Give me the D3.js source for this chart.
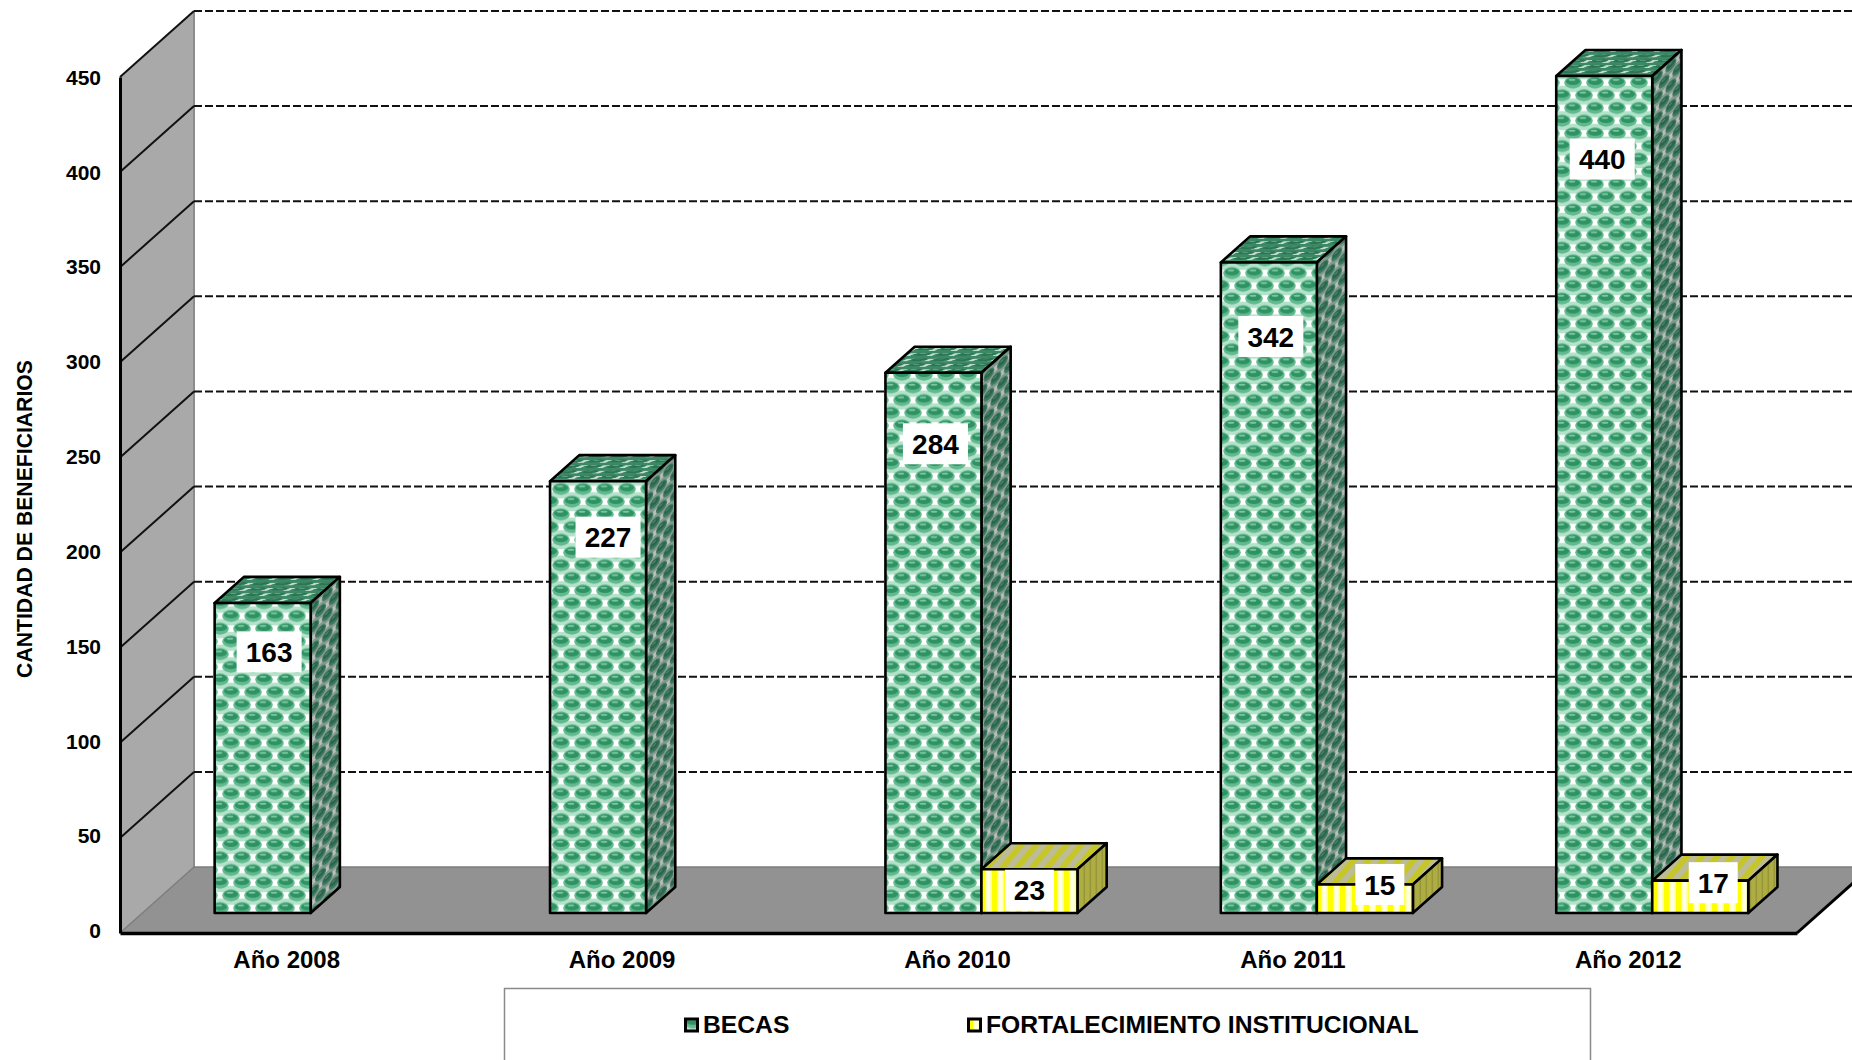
<!DOCTYPE html>
<html><head><meta charset="utf-8">
<script src="https://cdn.jsdelivr.net/npm/d3@7"></script>
<style>html,body{margin:0;padding:0;background:#fff;overflow:hidden}svg{display:block}text{font-family:"Liberation Sans",Arial,sans-serif;font-weight:bold;fill:#000}</style>
</head><body><svg id="c" width="1852" height="1060"></svg>
<script>
const categories = ["Año 2008","Año 2009","Año 2010","Año 2011","Año 2012"];
const seriesNames = ["BECAS","FORTALECIMIENTO INSTITUCIONAL"];
const becas = [163,227,284,342,440];
const fortalecimiento = [null,null,23,15,17];
const yTicks = [0,50,100,150,200,250,300,350,400,450];
const yTitle = "CANTIDAD DE BENEFICIARIOS";

// label placement (drawn offset from the top-front corner of each bar)
const labelDyBecas = [49,56,71,74,83];
const labelDxBecas = [6.5,10,2,2,-2];
const labelDyFort = [21,0,2];
const labelDxFort = [0,15,13];

const W=1852,H=1060, depthX=74, depthY=-66, nearFrac=.31, barDepth=.395;
const svg=d3.select("#c");
const x=d3.scaleBand().domain(categories).range([120,1797]);
const xSer=d3.scaleBand().domain(seriesNames).range([-96,96]);
const y=d3.scaleLinear().domain([0,450]).range([933,77]);
const defs=svg.append("defs");

function greenPattern(id,tf,bg,sq,el,dk,hi){
  const p=defs.append("pattern").attr("id",id).attr("patternUnits","userSpaceOnUse").attr("width",22).attr("height",25.4);
  if(tf)p.attr("patternTransform",tf);
  p.append("rect").attr("width",22).attr("height",25.4).attr("fill",bg);
  [[0,6.35],[22,6.35],[11,19.05]].forEach(([a,b])=>{
    p.append("rect").attr("x",a-4.2).attr("y",b-3.2).attr("width",8.4).attr("height",6.4).attr("fill",sq);
  });
  [[11,6.35],[0,19.05],[22,19.05]].forEach(([a,b])=>{
    p.append("ellipse").attr("cx",a).attr("cy",b).attr("rx",8.8).attr("ry",6).attr("fill",el);
    p.append("ellipse").attr("cx",a).attr("cy",b-1.2).attr("rx",7).attr("ry",3.6).attr("fill",dk);
    p.append("ellipse").attr("cx",a-1).attr("cy",b-2.6).attr("rx",3.4).attr("ry",1).attr("fill",hi);
  });
}
greenPattern("gFront",null,"#b5e2ca","#ffffff","#62b98f","#2f9263","#7cc7a2");
greenPattern("gTop","scale(1,.42) skewX(-48)","#3d8765","#c3dccf","#3a8a66","#2c7553","#5fa283");
greenPattern("gSide","skewY(-42) scale(.62,.8)","#83998e","#b9c0bb","#3d7a60","#2a654c","#4b8a6c");

const py=defs.append("pattern").attr("id","yFront").attr("patternUnits","userSpaceOnUse").attr("width",12).attr("height",20).attr("x",982);
py.append("rect").attr("width",12).attr("height",20).attr("fill","#ffff00");
py.append("rect").attr("x",3).attr("width",7).attr("height",20).attr("fill","#ffff90");
py.append("rect").attr("x",4.5).attr("width",4).attr("height",20).attr("fill","#ffffe8");
const pt=defs.append("pattern").attr("id","yTop").attr("patternUnits","userSpaceOnUse").attr("width",11.5).attr("height",14).attr("patternTransform","rotate(40)");
pt.append("rect").attr("width",11.5).attr("height",14).attr("fill","#c6c628");
pt.append("rect").attr("x",5.7).attr("width",5.8).attr("height",14).attr("fill","#bcbc96");
const ps=defs.append("pattern").attr("id","ySide").attr("patternUnits","userSpaceOnUse").attr("width",6).attr("height",20);
ps.append("rect").attr("width",6).attr("height",20).attr("fill","#adad44");
ps.append("rect").attr("x",3.5).attr("width",1.6).attr("height",20).attr("fill","#97973a");

// walls
const line=d3.line();
const y0=y(0), yTop=y(450), xL=x.range()[0], xR=x.range()[1];
svg.append("path").attr("d",line([[xL,y0],[xL+depthX,y0+depthY],[xL+depthX,yTop+depthY],[xL,yTop]])+"Z").attr("fill","#a9a9a9");
svg.append("path").attr("d",line([[xL,y0],[xR,y0],[xR+depthX,y0+depthY],[xL+depthX,y0+depthY]])+"Z").attr("fill","#929292");
svg.append("path").attr("d",line([[xL+depthX,y0+depthY],[xL+depthX,yTop+depthY]])).attr("stroke","#8c8c8c").attr("stroke-width",2).attr("fill","none");
svg.append("path").attr("d",line([[xR,y0],[xR+depthX,y0+depthY]])).attr("stroke","#000").attr("stroke-width",3).attr("fill","none");
svg.append("path").attr("d",line([[xL+depthX,y0+depthY],[xR+depthX,y0+depthY]])).attr("stroke","#7d7d7d").attr("stroke-width",1.5);
svg.append("path").attr("d",line([[xL,y0],[xL+depthX,y0+depthY]])).attr("stroke","#7d7d7d").attr("stroke-width",1.5);

// gridlines
yTicks.filter(t=>t>0).forEach(t=>{
  const g=y(t);
  svg.append("path").attr("d",line([[xL,g],[xL+depthX,g+depthY]])).attr("stroke","#111").attr("stroke-width",2).attr("fill","none");
  svg.append("path").attr("d",line([[xL+depthX,g+depthY],[xR+depthX,g+depthY]])).attr("stroke","#111").attr("stroke-width",2).attr("stroke-dasharray","8 3").attr("fill","none");
});

// axes
const ax=svg.append("g").attr("transform",`translate(${xL},0)`).call(d3.axisLeft(y).tickValues(yTicks).tickSize(0).tickPadding(19));
ax.select(".domain").attr("stroke","#000").attr("stroke-width",3);
ax.selectAll("text").attr("font-size",21).attr("font-family",'"Liberation Sans",Arial,sans-serif').attr("font-weight","bold")
  .attr("y",d=>-(1-d/450)*2.6+.6);
const bx=svg.append("g").attr("transform",`translate(-1,${y0})`).call(d3.axisBottom(x).tickSize(0).tickPadding(18));
bx.select(".domain").attr("stroke","#000").attr("stroke-width",3.5).attr("transform","translate(1,0)");
bx.selectAll("text").attr("font-size",24).attr("font-family",'"Liberation Sans",Arial,sans-serif').attr("font-weight","bold");

svg.append("text").attr("transform","translate(32,519) rotate(-90)").attr("text-anchor","middle").attr("font-size",21.2).text(yTitle);

// bars
const fx=nearFrac*depthX, fy=-20, bdx=barDepth*depthX, bdy=barDepth*depthY;
function bar(cat,ser,val,pF,pT,pS){
  const x0=x(cat)+x.bandwidth()/2+xSer(ser)+fx, x1=x0+xSer.bandwidth();
  const yb=y(0)+fy, yt=y(val)+fy;
  const g=svg.append("g").attr("stroke","#000").attr("stroke-width",2.6).attr("stroke-linejoin","round");
  g.append("path").attr("d",line([[x0,yt],[x1,yt],[x1+bdx,yt+bdy],[x0+bdx,yt+bdy]])+"Z").attr("fill",`url(#${pT})`);
  g.append("path").attr("d",line([[x1,yt],[x1+bdx,yt+bdy],[x1+bdx,yb+bdy],[x1,yb]])+"Z").attr("fill",`url(#${pS})`);
  g.append("path").attr("d",line([[x0,yt],[x1,yt],[x1,yb],[x0,yb]])+"Z").attr("fill",`url(#${pF})`);
  return {x0,x1,yt};
}
const pending=[];
categories.forEach((c,i)=>{
  const b=bar(c,seriesNames[0],becas[i],"gFront","gTop","gSide");
  pending.push({cx:(b.x0+b.x1)/2+labelDxBecas[i],cy:b.yt+labelDyBecas[i],t:becas[i],w:65});
  if(fortalecimiento[i]!=null){
    const f=bar(c,seriesNames[1],fortalecimiento[i],"yFront","yTop","ySide");
    const k=i-2;
    pending.push({cx:(f.x0+f.x1)/2+labelDxFort[k],cy:f.yt+labelDyFort[k],t:fortalecimiento[i],w:49});
  }
});
pending.forEach(l=>{
  svg.append("rect").attr("x",l.cx-l.w/2).attr("y",l.cy-20.5).attr("width",l.w).attr("height",41).attr("fill","#fff");
  svg.append("text").attr("x",l.cx).attr("y",l.cy).attr("dy",".36em").attr("text-anchor","middle").attr("font-size",28).text(l.t);
});

// legend
svg.append("rect").attr("x",504.5).attr("y",988.5).attr("width",1086).attr("height",90).attr("fill","#fff").attr("stroke","#8a8a8a").attr("stroke-width",1.5);
const legendX=[684,967];
seriesNames.forEach((s,i)=>{
  svg.append("rect").attr("x",legendX[i]+1.5).attr("y",1019).attr("width",12).attr("height",12).attr("fill",`url(#${i?"yFront":"gFront"})`).attr("stroke","#000").attr("stroke-width",3);
  svg.append("text").attr("x",legendX[i]+19).attr("y",1024).attr("dy",".36em").attr("font-size",24.7).text(s);
});
</script></body></html>
